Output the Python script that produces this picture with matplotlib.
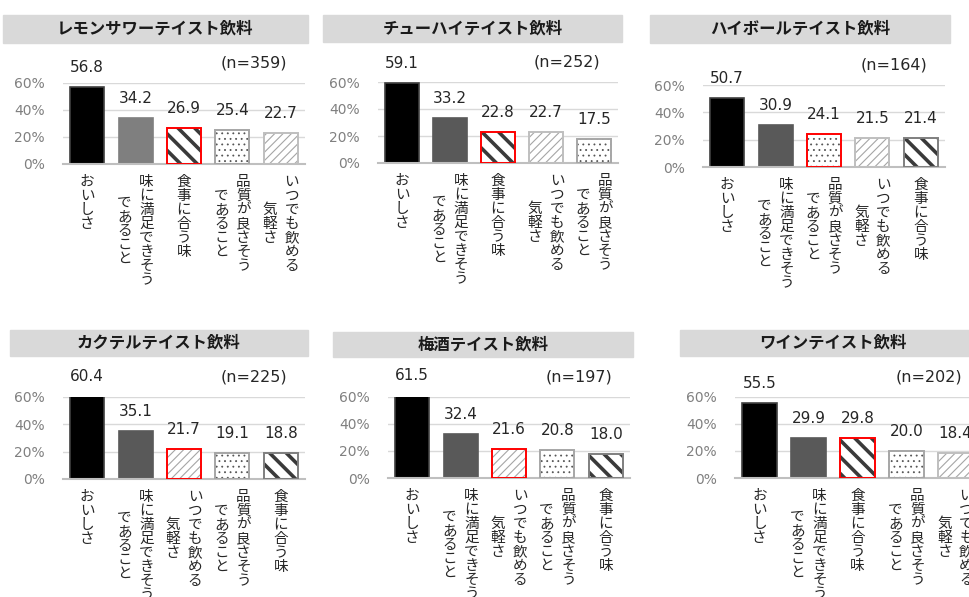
import matplotlib
matplotlib.use("Agg")
import matplotlib.pyplot as plt
from matplotlib.patches import Rectangle

plt.rcParams['font.family'] = ['Noto Sans CJK JP', 'DejaVu Sans']

W, H = 969, 597
PX = 0.72  # 1 px in points at dpi 100

# category names
TASTE = "おいしさ"
SATIS = "味に満足できそうであること"
FOOD = "食事に合う味"
QUAL = "品質が良さそうであること"
EASY = "いつでも飲める気軽さ"

titles = ["レモンサワーテイスト飲料", "チューハイテイスト飲料", "ハイボールテイスト飲料",
          "カクテルテイスト飲料", "梅酒テイスト飲料", "ワインテイスト飲料"]
n_counts = [359, 252, 164, 225, 197, 202]

cats_lemon = [TASTE, SATIS, FOOD, QUAL, EASY]
vals_lemon = [56.8, 34.2, 26.9, 25.4, 22.7]
cats_chuhi = [TASTE, SATIS, FOOD, EASY, QUAL]
vals_chuhi = [59.1, 33.2, 22.8, 22.7, 17.5]
cats_highball = [TASTE, SATIS, QUAL, EASY, FOOD]
vals_highball = [50.7, 30.9, 24.1, 21.5, 21.4]
cats_cocktail = [TASTE, SATIS, EASY, QUAL, FOOD]
vals_cocktail = [60.4, 35.1, 21.7, 19.1, 18.8]
cats_umeshu = [TASTE, SATIS, EASY, QUAL, FOOD]
vals_umeshu = [61.5, 32.4, 21.6, 20.8, 18.0]
cats_wine = [TASTE, SATIS, FOOD, QUAL, EASY]
vals_wine = [55.5, 29.9, 29.8, 20.0, 18.4]

all_cats = [cats_lemon, cats_chuhi, cats_highball, cats_cocktail, cats_umeshu, cats_wine]
all_vals = [vals_lemon, vals_chuhi, vals_highball, vals_cocktail, vals_umeshu, vals_wine]

# vertical label columns (right column first)
columns = {
    TASTE: ["おいしさ"],
    SATIS: ["味に満足できそう", "であること"],
    FOOD: ["食事に合う味"],
    QUAL: ["品質が良さそう", "であること"],
    EASY: ["いつでも飲める", "気軽さ"],
}

# bar looks per category
styles = {
    TASTE: dict(fc="black", ec="#404040", hatch=None, hc=None, hlw=0),
    SATIS: dict(fc="#595959", ec="#595959", hatch=None, hc=None, hlw=0),
    FOOD: dict(fc="white", ec="#7f7f7f", hatch="\\\\", hc="#3a3a3a", hlw=2.6),
    QUAL: dict(fc="white", ec="#a6a6a6", hatch="...", hc="#555555", hlw=0.6),
    EASY: dict(fc="white", ec="#bfbfbf", hatch="////", hc="#a6a6a6", hlw=0.8),
}
satis_grey = ["#7f7f7f", "#595959", "#595959", "#595959", "#595959", "#595959"]

# plot areas in pixels: x left, x right, y of 60%, y of 0%
axes_px = [(63, 305, 83, 164), (378, 618, 82, 163), (703, 945, 85, 167),
           (63, 305, 397, 479), (388, 630, 397, 478), (735, 980, 397, 478)]
title_px = [(3, 308, 15, 43), (323, 622, 15, 42), (650, 950, 15, 43),
            (10, 308, 330, 356), (333, 633, 332, 357), (680, 985, 330, 356)]

fig = plt.figure(figsize=(W / 100, H / 100), dpi=100)

for k in range(6):
    x0, x1, ytop, ybot = axes_px[k]
    ax = fig.add_axes([x0 / W, 1 - ybot / H, (x1 - x0) / W, (ybot - ytop) / H])
    cats = all_cats[k]
    vals = all_vals[k]

    for i, (c, v) in enumerate(zip(cats, vals)):
        st = styles[c]
        fc = satis_grey[k] if c == SATIS else st["fc"]
        ec = satis_grey[k] if c == SATIS else st["ec"]
        if i == 2:
            ec = "#ff0000"
        if st["hatch"]:
            with plt.rc_context({"hatch.linewidth": st["hlw"]}):
                hb = ax.bar(i, v, 0.7, color=fc, edgecolor=st["hc"], linewidth=0,
                            hatch=st["hatch"], zorder=2)
            for p in hb:
                if hasattr(p, "set_hatch_linewidth"):
                    p.set_hatch_linewidth(st["hlw"])
            ax.bar(i, v, 0.7, fill=False, edgecolor=ec, linewidth=1.4, zorder=3)
        else:
            ax.bar(i, v, 0.7, color=fc, edgecolor=ec, linewidth=1.2, zorder=2)

        ax.annotate(f"{v:.1f}", xy=(i, v), xytext=(0, 15 * PX), textcoords="offset points",
                    ha="center", va="baseline", fontsize=11, color="#262626",
                    family="DejaVu Sans", annotation_clip=False)

        # vertical category label, one glyph at a time
        cols = columns[c]
        nmax = max(len(s) for s in cols)
        pitch = 14
        for j, col in enumerate(cols):
            dx = ((len(cols) - 1) / 2 - j) * 22
            shift = (nmax - len(col)) * pitch / 2
            for m, ch in enumerate(col):
                dy = 11 + shift + (m + 0.5) * pitch
                ax.annotate(ch, xy=(i, 0), xycoords=("data", "axes fraction"),
                            xytext=(dx * PX, -dy * PX), textcoords="offset points",
                            ha="center", va="center", fontsize=10.5, color="#262626",
                            annotation_clip=False)

    ax.set_xlim(-0.5, len(cats) - 0.5)
    ax.set_ylim(0, 60)
    ax.set_xticks([])
    ax.set_yticks([0, 20, 40, 60])
    ax.set_yticklabels(["0%", "20%", "40%", "60%"], family="DejaVu Sans", fontsize=10,
                       color="#808080")
    ax.tick_params(axis="y", length=0, pad=18 * PX)
    ax.yaxis.grid(True, color="#d9d9d9", linewidth=1)
    ax.set_axisbelow(True)
    for s in ["top", "left", "right"]:
        ax.spines[s].set_visible(False)
    ax.spines["bottom"].set_color("#bfbfbf")
    ax.spines["bottom"].set_linewidth(1.5)
    ax.patch.set_alpha(0)

    ax.annotate(f"(n={n_counts[k]})", xy=(1, 1), xycoords="axes fraction",
                xytext=(-18 * PX, 20 * PX), textcoords="offset points",
                ha="right", va="center", fontsize=11.5, color="#262626",
                family="DejaVu Sans", annotation_clip=False)

    # grey title box
    tx0, tx1, ty0, ty1 = title_px[k]
    fig.add_artist(Rectangle((tx0 / W, 1 - ty1 / H), (tx1 - tx0) / W, (ty1 - ty0) / H,
                             transform=fig.transFigure, color="#d9d9d9", zorder=0))
    fig.text((tx0 + tx1) / 2 / W, 1 - (ty0 + ty1) / 2 / H, titles[k], ha="center",
             va="center", fontsize=11.8, fontweight="bold", color="#1a1a1a")

fig.savefig("out.png", dpi=100)
